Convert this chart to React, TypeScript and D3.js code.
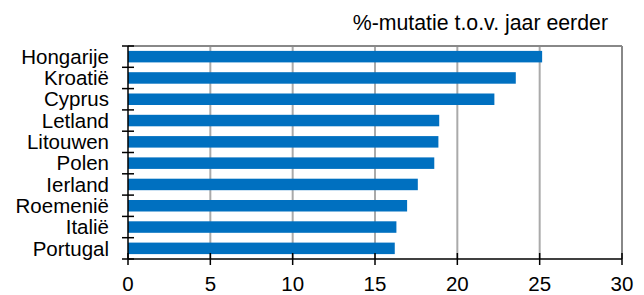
import React from 'react';
import * as d3 from 'd3';

const countries = ['Hongarije', 'Kroatië', 'Cyprus', 'Letland', 'Litouwen', 'Polen', 'Ierland', 'Roemenië', 'Italië', 'Portugal'];
const values = [25.15, 23.55, 22.25, 18.9, 18.85, 18.6, 17.6, 16.95, 16.3, 16.2];
const xTicks = [0, 5, 10, 15, 20, 25, 30];
const title = '%-mutatie t.o.v. jaar eerder';

const W = 644, H = 295;
const margin = { top: 46, right: 22, bottom: 36, left: 128 };
const font = 'Liberation Sans, Arial, sans-serif';
const fs = 20.5;

export default function App() {
  const x = d3.scaleLinear().domain([0, 30]).range([margin.left, W - margin.right]);
  const y = d3.scaleBand().domain(countries).range([margin.top, H - margin.bottom]).paddingInner(0.46).paddingOuter(0.23);
  const bandEdges = d3.range(countries.length + 1).map(i => margin.top + i * (H - margin.bottom - margin.top) / countries.length);
  const bottom = H - margin.bottom;
  const right = W - margin.right;

  return (
    <svg width={W} height={H} style={{ position: 'absolute', left: 0, top: 0 }}>
      <rect width={W} height={H} fill="#fff" />
      <text x={608} y={30} textAnchor="end" fontFamily={font} fontSize={21.3} fill="#000">{title}</text>
      {xTicks.slice(1, -1).map(t => (
        <line key={'g' + t} x1={x(t)} x2={x(t)} y1={margin.top} y2={bottom} stroke="#aaa" strokeWidth={2} />
      ))}
      <line x1={margin.left} x2={right} y1={margin.top} y2={margin.top} stroke="#888" strokeWidth={2} />
      <line x1={right} x2={right} y1={margin.top} y2={bottom} stroke="#888" strokeWidth={2} />
      {countries.map((c, i) => (
        <rect key={c} x={x(0)} y={y(c)!} width={x(values[i]) - x(0)} height={y.bandwidth()} fill="#0070c0" />
      ))}
      <line x1={margin.left} x2={margin.left} y1={margin.top} y2={bottom} stroke="#000" strokeWidth={1.5} />
      {bandEdges.map((e, i) => (
        <line key={'yt' + i} x1={margin.left - 6} x2={margin.left + 6} y1={e} y2={e} stroke="#000" strokeWidth={1.5} />
      ))}
      <line x1={margin.left} x2={right} y1={bottom} y2={bottom} stroke="#000" strokeWidth={1.5} />
      {xTicks.map(t => (
        <g key={'xt' + t}>
          <line x1={x(t)} x2={x(t)} y1={bottom - 6} y2={bottom + 6} stroke="#000" strokeWidth={1.5} />
          <text x={x(t)} y={bottom + 32} textAnchor="middle" fontFamily={font} fontSize={fs} fill="#000">{t}</text>
        </g>
      ))}
      {countries.map(c => (
        <text key={'l' + c} x={109} y={y(c)! + y.bandwidth() / 2} dy="0.35em" textAnchor="end" fontFamily={font} fontSize={fs} fill="#000">{c}</text>
      ))}
    </svg>
  );
}
